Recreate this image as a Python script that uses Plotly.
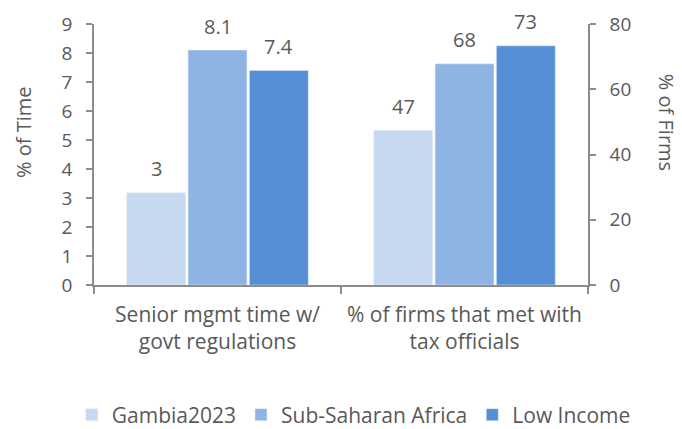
import plotly.graph_objects as go

categories = ["Senior mgmt time w/<br>govt regulations", "% of firms that met with<br>tax officials"]
series_names = ["Gambia2023", "Sub-Saharan Africa", "Low Income"]
time_values = [3.18, 8.1, 7.4]          # % of Time (left axis)
firm_values = [47.4, 67.8, 73.3]        # % of Firms (right axis)
time_labels = ["3", "8.1", "7.4"]
firm_labels = ["47", "68", "73"]
left_ticks = [0, 1, 2, 3, 4, 5, 6, 7, 8, 9]
right_ticks = [0, 20, 40, 60, 80]

colors = ["#C6D9F1", "#8EB4E3", "#558ED5"]
FONT = "Open Sans"
TXT = "#595959"
AX = "#8C8C8C"
BARGAP = 0.255

fig = go.Figure()
for i, name in enumerate(series_names):
    fig.add_trace(go.Bar(x=[categories[0]], y=[time_values[i]], name=name,
                         marker_color=colors[i], legendgroup=name,
                         yaxis="y", hoverinfo="skip"))
for i, name in enumerate(series_names):
    fig.add_trace(go.Bar(x=[categories[1]], y=[firm_values[i]], name=name,
                         marker_color=colors[i], legendgroup=name,
                         showlegend=False, yaxis="y2", hoverinfo="skip"))

slot = (1 - BARGAP) / 3
lab_font = dict(family=FONT, size=20, color=TXT)
anns = []
for i in range(3):
    anns.append(dict(x=0 + (i - 1) * slot, y=time_values[i], xref="x", yref="y",
                     text=time_labels[i], showarrow=False, yanchor="middle",
                     yshift=24, font=lab_font))
    anns.append(dict(x=1 + (i - 1) * slot, y=firm_values[i], xref="x", yref="y2",
                     text=firm_labels[i], showarrow=False, yanchor="middle",
                     yshift=24, font=lab_font))
anns.append(dict(x=-0.144, y=0.586, xref="paper", yref="paper", xanchor="center",
                 yanchor="middle", text="% of Time", textangle=-90, showarrow=False,
                 font=lab_font))
anns.append(dict(x=1.158, y=0.625, xref="paper", yref="paper", xanchor="center",
                 yanchor="middle", text="% of Firms", textangle=90, showarrow=False,
                 font=lab_font))

tick_font = dict(family=FONT, size=19, color=TXT)

fig.update_layout(
    width=674, height=421,
    margin=dict(l=86, r=94, t=16, b=144, autoexpand=False),
    paper_bgcolor="white", plot_bgcolor="white",
    barmode="group", bargap=BARGAP, bargroupgap=0.04,
    font=dict(family=FONT, size=19, color=TXT),
    showlegend=True,
    legend=dict(orientation="h", x=-0.045, xanchor="left", y=-0.498, yanchor="middle",
                font=dict(family=FONT, size=21, color=TXT), itemwidth=30,
                traceorder="normal", bgcolor="rgba(0,0,0,0)"),
    xaxis=dict(type="category", categoryarray=categories, categoryorder="array",
               showline=True, linecolor=AX, linewidth=1.5, ticks="outside",
               tickson="boundaries", ticklen=7, tickcolor=AX, tickwidth=1.5,
               showgrid=False, zeroline=False, ticklabelstandoff=10,
               tickfont=dict(family=FONT, size=21, color=TXT)),
    yaxis=dict(range=[0, 9], tickvals=left_ticks, showline=True, linecolor=AX,
               linewidth=1.5, ticks="outside", ticklen=6, tickcolor=AX, tickwidth=1.5,
               showgrid=False, zeroline=False, ticklabelstandoff=10,
               tickfont=tick_font),
    yaxis2=dict(range=[0, 80], tickvals=right_ticks, overlaying="y", side="right",
                showline=True, linecolor=AX, linewidth=1.5, ticks="outside",
                ticklen=6, tickcolor=AX, tickwidth=1.5, showgrid=False,
                zeroline=False, ticklabelstandoff=10,
                tickfont=tick_font),
    annotations=anns,
)

fig.write_html("out.html")
